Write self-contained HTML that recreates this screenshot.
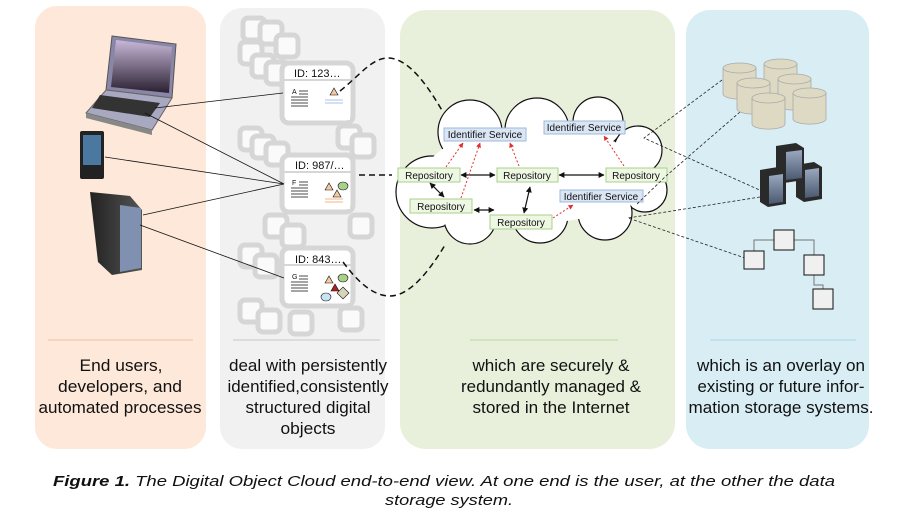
<!DOCTYPE html>
<html><head><meta charset="utf-8"><style>
body{margin:0;background:#fff;width:899px;height:521px;overflow:hidden}
svg{display:block}
text{font-family:"Liberation Sans",sans-serif}
</style></head><body>
<svg width="899" height="521" viewBox="0 0 899 521" xmlns="http://www.w3.org/2000/svg">
<defs>
<marker id="ab" viewBox="0 0 10 10" refX="9" refY="5" markerWidth="5" markerHeight="5" orient="auto-start-reverse"><path d="M0,0L10,5L0,10z" fill="#111"/></marker>
<marker id="ar" viewBox="0 0 10 10" refX="9" refY="5" markerWidth="5" markerHeight="5" orient="auto"><path d="M0,0L10,5L0,10z" fill="#e03030"/></marker>
<linearGradient id="tw" x1="0" x2="1"><stop offset="0" stop-color="#222"/><stop offset="1" stop-color="#555"/></linearGradient>
<linearGradient id="scr" x1="0" y1="0" x2="0" y2="1"><stop offset="0" stop-color="#c8b8d8"/><stop offset="1" stop-color="#2a2030"/></linearGradient>
<linearGradient id="sv" x1="0" y1="0" x2="0" y2="1"><stop offset="0" stop-color="#9aa8c0"/><stop offset="1" stop-color="#4a5870"/></linearGradient>
</defs>
<!-- panels -->
<rect x="35" y="6" width="171" height="443" rx="22" fill="#fde8d9"/>
<rect x="220" y="8" width="165" height="441" rx="22" fill="#f1f1f1"/>
<rect x="400" y="10" width="275" height="439" rx="26" fill="#e8f0dc"/>
<rect x="686" y="10" width="183" height="439" rx="24" fill="#d8edf4"/>
<line x1="48" y1="340" x2="193" y2="340" stroke="#f5c0a0"/>
<line x1="233" y1="340" x2="380" y2="340" stroke="#c8c8c8"/>
<line x1="470" y1="340" x2="618" y2="340" stroke="#b8d8a0"/>
<line x1="710" y1="340" x2="856" y2="340" stroke="#a8d8e8"/>

<!-- gray background squares -->
<g fill="#fafafa" stroke="#d6d6d6" stroke-width="5">
<rect x="243" y="18" width="22" height="22" rx="5"/><rect x="260" y="22" width="22" height="22" rx="5"/><rect x="276" y="35" width="22" height="22" rx="5"/>
<rect x="240" y="42" width="22" height="22" rx="5"/><rect x="252" y="55" width="22" height="22" rx="5"/><rect x="266" y="62" width="22" height="22" rx="5"/>
<rect x="240" y="128" width="22" height="22" rx="5"/><rect x="252" y="136" width="22" height="22" rx="5"/><rect x="266" y="143" width="22" height="22" rx="5"/>
<rect x="338" y="126" width="22" height="22" rx="5"/><rect x="352" y="135" width="22" height="22" rx="5"/>
<rect x="265" y="215" width="22" height="22" rx="5"/><rect x="282" y="225" width="22" height="22" rx="5"/><rect x="350" y="215" width="22" height="22" rx="5"/>
<rect x="240" y="245" width="22" height="22" rx="5"/><rect x="255" y="255" width="22" height="22" rx="5"/>
<rect x="240" y="300" width="22" height="22" rx="5"/><rect x="258" y="310" width="22" height="22" rx="5"/><rect x="290" y="312" width="22" height="22" rx="5"/><rect x="340" y="308" width="22" height="22" rx="5"/>
</g>
<!-- cards -->
<g stroke="#d6d6d6" stroke-width="5" fill="#fff">
<rect x="282" y="63" width="71" height="60" rx="7"/>
<rect x="282" y="155" width="71" height="57" rx="7"/>
<rect x="282" y="248" width="71" height="58" rx="7"/>
</g>
<g fill="#fff"><rect x="286" y="82" width="64" height="38"/><rect x="286" y="173" width="64" height="36"/><rect x="286" y="267" width="64" height="36"/></g>
<g stroke="#d6d6d6" stroke-width="2"><line x1="284" y1="80" x2="351" y2="80"/><line x1="284" y1="172" x2="351" y2="172"/><line x1="284" y1="265" x2="351" y2="265"/></g>
<g font-size="11" fill="#111"><text x="294" y="77">ID: 123…</text><text x="295" y="169">ID: 987/…</text><text x="295" y="263">ID: 843…</text></g>
<g font-size="7" fill="#111"><text x="292" y="94">A</text><text x="292" y="185">F</text><text x="292" y="279">G</text></g>
<g stroke="#111" stroke-width="0.8">
<path d="M299,91h9M299,94h9M291,97h17M291,100h17M291,103h17M291,106h17"/>
<path d="M299,182h9M299,185h9M291,188h17M291,191h17M291,194h17M291,197h17"/>
<path d="M299,276h9M299,279h9M291,282h17M291,285h17M291,288h17M291,291h17"/>
</g>
<g stroke="#111" stroke-width="0.6">
<path d="M330,95l4,-7l4,7z" fill="#f7c9a0"/>
<path d="M325,190l4,-7l4,7z" fill="#f7c9a0"/><path d="M333,197l4,-7l4,7z" fill="#f7c9a0"/>
<ellipse cx="343" cy="186" rx="5" ry="4" fill="#a8d08a"/>
<path d="M325,283l4,-7l4,7z" fill="#f7c9a0"/><path d="M331,291l4,-7l4,7z" fill="#b02020"/>
<ellipse cx="343" cy="278" rx="5" ry="4" fill="#a8d08a"/><ellipse cx="326" cy="297" rx="5" ry="4" fill="#c8e4f4"/>
<path d="M343,287l6,6l-6,6l-6,-6z" fill="#d8d4b8"/>
</g>
<g stroke-width="0.8"><path d="M325,100h18M325,103h18" stroke="#8ab0e0"/><path d="M325,199h18M325,202h18" stroke="#f0a060"/></g>

<!-- devices -->
<path d="M112,36L176,44L172,98L106,90z" fill="#8a86a8" stroke="#555" stroke-width="1"/>
<path d="M116,40L172,47L169,93L111,87z" fill="url(#scr)"/>
<path d="M106,90L172,98L152,130L86,113z" fill="#a8a8c0" stroke="#666" stroke-width="1"/>
<path d="M100,95L160,103L150,117L92,108z" fill="#333"/>
<path d="M86,113L152,130L152,135L86,118z" fill="#888"/>
<rect x="80" y="131" width="24" height="48" rx="2" fill="#222"/>
<rect x="83" y="135" width="18" height="30" fill="#4a78a0"/>
<path d="M90,192L130,196L142,210L142,270L112,275L98,262z" fill="url(#tw)"/>
<path d="M120,205L141,208L141,268L120,272z" fill="#8090b0"/>
<!-- device lines -->
<g stroke="#111" stroke-width="0.8" fill="none">
<path d="M155,108L283,93"/><path d="M145,113L284,184"/><path d="M105,157L284,184"/><path d="M143,215L284,184"/><path d="M140,225L284,278"/>
</g>
<!-- dashed curves -->
<g stroke="#111" stroke-width="1.5" stroke-dasharray="6,4" fill="none">
<path d="M340,91C360,75 372,58 388,58C410,58 430,90 443,112"/>
<path d="M359,175H392"/>
<path d="M343,262C360,285 375,296 390,296C410,296 430,270 445,245"/>
</g>

<!-- cloud -->
<g fill="#fff" stroke="#111" stroke-width="1.2">
<circle cx="432" cy="192" r="36"/><circle cx="470" cy="132" r="32"/><circle cx="537" cy="130" r="32"/>
<circle cx="598" cy="122" r="25"/><circle cx="638" cy="150" r="24"/><circle cx="645" cy="190" r="22"/>
<circle cx="605" cy="213" r="27"/><circle cx="540" cy="215" r="28"/><circle cx="470" cy="218" r="26"/>
</g>
<g fill="#fff">
<circle cx="432" cy="192" r="35"/><circle cx="470" cy="132" r="31"/><circle cx="537" cy="130" r="31"/>
<circle cx="598" cy="122" r="24"/><circle cx="638" cy="150" r="23"/><circle cx="645" cy="190" r="21"/>
<circle cx="605" cy="213" r="26"/><circle cx="540" cy="215" r="27"/><circle cx="470" cy="218" r="25"/>
<ellipse cx="535" cy="175" rx="110" ry="48"/>
</g>
<!-- nodes -->
<g font-size="10" fill="#111">
<rect x="444" y="128" width="82" height="13" fill="#dbe6f4" stroke="#9cb8dc"/><text x="485" y="138" text-anchor="middle">Identifier Service</text>
<rect x="544" y="121" width="81" height="13" fill="#dbe6f4" stroke="#9cb8dc"/><text x="584" y="131" text-anchor="middle">Identifier Service</text>
<rect x="560" y="190" width="83" height="12" fill="#dbe6f4" stroke="#9cb8dc"/><text x="601" y="200" text-anchor="middle">Identifier Service</text>
<g fill="#eef6e4" stroke="#a8d08a">
<rect x="398" y="168" width="62" height="14"/><rect x="497" y="168" width="61" height="14"/><rect x="606" y="168" width="61" height="14"/>
<rect x="410" y="199" width="62" height="14"/><rect x="490" y="215" width="62" height="14"/></g>
<text x="429" y="179" text-anchor="middle">Repository</text><text x="527" y="179" text-anchor="middle">Repository</text><text x="636" y="179" text-anchor="middle">Repository</text>
<text x="441" y="210" text-anchor="middle">Repository</text><text x="521" y="226" text-anchor="middle">Repository</text>
</g>
<g stroke="#111" stroke-width="1.2" marker-start="url(#ab)" marker-end="url(#ab)">
<line x1="461" y1="175" x2="495" y2="175"/><line x1="559" y1="175" x2="604" y2="175"/>
<line x1="430" y1="183" x2="444" y2="197"/><line x1="474" y1="210" x2="494" y2="210"/>
<line x1="524" y1="213" x2="530" y2="187"/>
</g>
<g stroke="#e03030" stroke-width="1" stroke-dasharray="2,2" marker-end="url(#ar)" fill="none">
<line x1="446" y1="167" x2="463" y2="143"/><line x1="461" y1="198" x2="480" y2="143"/>
<line x1="519" y1="166" x2="510" y2="143"/><line x1="624" y1="166" x2="604" y2="136"/>
<line x1="553" y1="218" x2="573" y2="205"/>
</g>
<!-- storage dashed -->
<g stroke="#222" stroke-width="0.8" stroke-dasharray="3,2" fill="none">
<path d="M722,80L644,138L764,192"/><path d="M740,112L666,176L636,205"/><path d="M760,197L628,218L745,258"/>
</g>
<!-- cylinders -->
<g fill="#ddd9c3" stroke="#aaa" stroke-width="0.8">
<path d="M723,68v26a16,5 0 0 0 33,0v-26"/><ellipse cx="739.5" cy="68" rx="16.5" ry="5"/>
<path d="M764,64v26a16,5 0 0 0 33,0v-26"/><ellipse cx="780.5" cy="64" rx="16.5" ry="5"/>
<path d="M737,83v26a16,5 0 0 0 33,0v-26"/><ellipse cx="753.5" cy="83" rx="16.5" ry="5"/>
<path d="M778,79v26a16,5 0 0 0 33,0v-26"/><ellipse cx="794.5" cy="79" rx="16.5" ry="5"/>
<path d="M752,98v26a16,5 0 0 0 33,0v-26"/><ellipse cx="768.5" cy="98" rx="16.5" ry="5"/>
<path d="M793,93v26a16,5 0 0 0 33,0v-26"/><ellipse cx="809.5" cy="93" rx="16.5" ry="5"/>
</g>
<!-- servers -->
<g fill="#2a2a2a">
<path d="M776,146l20,-3l8,5v32l-20,3l-8,-5z"/><path d="M796,165l18,-3l8,5v32l-18,3l-8,-5z"/><path d="M760,170l18,-3l8,5v32l-18,3l-8,-5z"/>
</g>
<g fill="url(#sv)"><path d="M786,152l16,-2v28l-16,2z"/><path d="M805,170l14,-2v28l-14,2z"/><path d="M769,176l14,-2v28l-14,2z"/></g>
<!-- tree -->
<g fill="none" stroke="#777" stroke-width="1"><path d="M754,251v-11h20M794,240h20v15M814,275v10h9v4"/></g>
<g fill="#f0f0f0" stroke="#111" stroke-width="1">
<rect x="744" y="251" width="20" height="18"/><rect x="774" y="230" width="20" height="20"/><rect x="804" y="255" width="20" height="20"/><rect x="813" y="289" width="20" height="20"/>
</g>

<!-- panel texts -->
<g font-size="17" fill="#111" text-anchor="middle">
<text x="121" y="371" textLength="83" lengthAdjust="spacingAndGlyphs">End users,</text>
<text x="120" y="392" textLength="124" lengthAdjust="spacingAndGlyphs">developers, and</text>
<text x="120" y="413" textLength="163" lengthAdjust="spacingAndGlyphs">automated processes</text>
<text x="308" y="371" textLength="158" lengthAdjust="spacingAndGlyphs">deal with persistently</text>
<text x="308" y="392" textLength="161" lengthAdjust="spacingAndGlyphs">identified,consistently</text>
<text x="308" y="413" textLength="125" lengthAdjust="spacingAndGlyphs">structured digital</text>
<text x="308" y="434" textLength="55" lengthAdjust="spacingAndGlyphs">objects</text>
<text x="551" y="371" textLength="157" lengthAdjust="spacingAndGlyphs">which are securely &amp;</text>
<text x="551" y="392" textLength="180" lengthAdjust="spacingAndGlyphs">redundantly managed &amp;</text>
<text x="551" y="413" textLength="157" lengthAdjust="spacingAndGlyphs">stored in the Internet</text>
<text x="781" y="371" textLength="168" lengthAdjust="spacingAndGlyphs">which is an overlay on</text>
<text x="781" y="392" textLength="167" lengthAdjust="spacingAndGlyphs">existing or future infor-</text>
<text x="781" y="413" textLength="185" lengthAdjust="spacingAndGlyphs">mation storage systems.</text>
</g>
<g font-size="15" font-style="italic" fill="#111">
<text x="53" y="486" textLength="782" lengthAdjust="spacingAndGlyphs"><tspan font-weight="bold">Figure 1.</tspan> The Digital Object Cloud end-to-end  view.  At one end is the user, at the other the data</text>
<text x="449" y="505" text-anchor="middle" textLength="128" lengthAdjust="spacingAndGlyphs">storage system.</text>
</g>
</svg>
</body></html>
